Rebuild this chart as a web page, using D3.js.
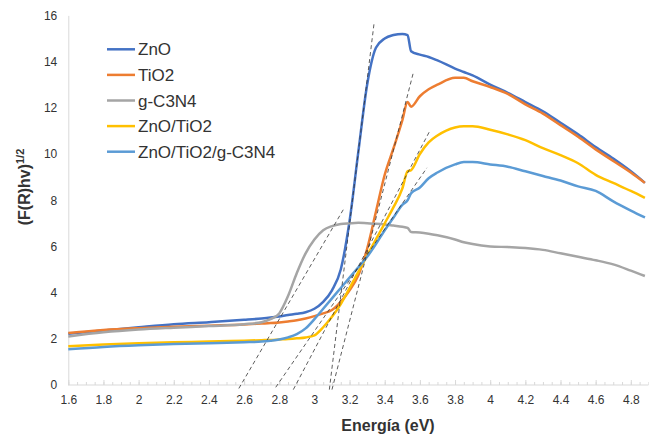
<!DOCTYPE html>
<html>
<head>
<meta charset="utf-8">
<script src="https://cdn.jsdelivr.net/npm/d3@7"></script>
<style>
  html, body { margin: 0; padding: 0; background: #ffffff; }
  svg { display: block; font-family: "Liberation Sans", Arial, sans-serif; }
</style>
</head>
<body>
<svg id="chart" width="649" height="437"></svg>
<script>
// ---------- DATA ----------
const energy = [1.6,1.8,2.0,2.2,2.4,2.6,2.7,2.75,2.8,2.85,2.9,2.95,3.0,3.05,3.1,3.15,3.2,3.25,3.3,3.35,3.4,3.45,3.5,3.53,3.55,3.6,3.65,3.7,3.8,3.85,3.9,4.0,4.1,4.2,4.3,4.4,4.5,4.6,4.7,4.8,4.88];

const seriesNames = ["ZnO", "TiO2", "g-C3N4", "ZnO/TiO2", "ZnO/TiO2/g-C3N4"];

const znO = [2.22,2.36,2.5,2.63,2.72,2.82,2.88,2.92,2.97,3.03,3.08,3.15,3.3,3.6,4.1,5.0,7.1,10.1,13.0,14.6,15.0,15.15,15.2,15.15,14.45,14.3,14.2,14.05,13.7,13.55,13.4,13.0,12.65,12.25,11.85,11.35,10.85,10.3,9.8,9.25,8.75];

const tiO2 = [2.25,2.38,2.46,2.52,2.57,2.62,2.66,2.68,2.71,2.75,2.8,2.88,2.98,3.1,3.25,3.6,4.1,4.75,5.9,7.5,9.1,10.25,11.45,12.25,12.05,12.5,12.8,13.0,13.3,13.3,13.15,12.9,12.6,12.15,11.75,11.25,10.75,10.2,9.7,9.2,8.75];

const gC3N4 = [2.1,2.28,2.4,2.48,2.55,2.63,2.72,2.85,3.1,3.85,4.85,5.7,6.3,6.7,6.88,6.97,7.0,7.02,7.0,6.98,6.95,6.9,6.85,6.8,6.62,6.6,6.55,6.48,6.3,6.18,6.1,6.0,5.97,5.93,5.85,5.7,5.55,5.4,5.22,4.95,4.72];

const znOTiO2 = [1.68,1.75,1.81,1.85,1.88,1.92,1.94,1.95,1.97,1.99,2.02,2.06,2.15,2.5,2.95,3.5,4.2,4.9,5.6,6.3,7.0,7.7,8.5,9.25,9.3,10.0,10.5,10.8,11.15,11.2,11.2,11.05,10.85,10.6,10.25,9.95,9.6,9.1,8.75,8.4,8.1];

const znOTiO2gC3N4 = [1.55,1.65,1.72,1.77,1.81,1.85,1.88,1.92,1.97,2.06,2.2,2.45,2.85,3.3,3.75,4.2,4.65,5.1,5.55,6.1,6.7,7.25,7.8,8.0,8.3,8.55,8.95,9.2,9.55,9.65,9.65,9.55,9.45,9.25,9.05,8.85,8.6,8.4,7.95,7.55,7.25];

// Tangent (Tauc) lines: [x0, y0, x1, y1] in data units
const tangentLines = [
  [2.57, -0.15, 3.165, 7.6],
  [2.78, -0.1, 3.64, 9.4],
  [2.88, -0.2, 3.66, 11.05],
  [3.10, -0.2, 3.562, 13.5],
  [3.085, -0.2, 3.34, 15.7]
];

const xTickValues = [1.6,1.8,2.0,2.2,2.4,2.6,2.8,3.0,3.2,3.4,3.6,3.8,4.0,4.2,4.4,4.6,4.8];
const yTickValues = [0,2,4,6,8,10,12,14,16];

// ---------- STYLE ----------
const colors = ["#4472C4", "#ED7D31", "#A5A5A5", "#FFC000", "#5B9BD5"];
const textColor = "#333333";
const axisColor = "#d9d9d9";

// ---------- CHART ----------
const svg = d3.select("#chart");
const allSeries = [znO, tiO2, gC3N4, znOTiO2, znOTiO2gC3N4];

const x = d3.scaleLinear().domain([1.6, 4.9]).range([68.3, 648.4]);
const y = d3.scaleLinear().domain([0, 16]).range([385, 15.4]);

// y axis (line only + labels)
const yAxis = svg.append("g").attr("transform", `translate(${x(1.6)},0)`)
  .call(d3.axisLeft(y).tickValues(yTickValues).tickSize(0).tickPadding(11).tickFormat(d3.format("d")));
yAxis.select(".domain").attr("stroke", axisColor).attr("stroke-width", 1);
yAxis.selectAll("text").attr("font-size", 12).attr("fill", textColor)
  .attr("font-family", "'Liberation Sans', Arial, sans-serif");

// x axis minor ticks
const minorVals = d3.range(0, 67).map(i => +(1.6 + i * 0.05).toFixed(2)).filter(v => v <= 4.9);
const xMinor = svg.append("g").attr("transform", `translate(0,${y(0)})`)
  .call(d3.axisBottom(x).tickValues(minorVals).tickSize(-3).tickFormat(""));
xMinor.select(".domain").remove();
xMinor.selectAll("line").attr("stroke", axisColor);

// x axis major
const xAxis = svg.append("g").attr("transform", `translate(0,${y(0)})`)
  .call(d3.axisBottom(x).tickValues(xTickValues).tickSize(-5).tickFormat(d => d3.format("")(+d.toFixed(1))));
xAxis.select(".domain").attr("stroke", axisColor).attr("stroke-width", 1)
  .attr("d", `M${x(1.6)},0H${x(4.9)}`);
xAxis.selectAll("line").attr("stroke", axisColor);
xAxis.selectAll("text").attr("y", 19).attr("dy", 0).attr("font-size", 12).attr("fill", textColor)
  .attr("font-family", "'Liberation Sans', Arial, sans-serif");

// series lines
const line = d3.line().x(d => x(d[0])).y(d => y(d[1])).curve(d3.curveMonotoneX);
allSeries.forEach((vals, i) => {
  svg.append("path")
    .datum(energy.map((e, j) => [e, vals[j]]))
    .attr("fill", "none")
    .attr("stroke", colors[i])
    .attr("stroke-width", 2.5)
    .attr("stroke-linejoin", "round")
    .attr("d", line);
});

// tangent lines
svg.append("g").selectAll("line").data(tangentLines).join("line")
  .attr("x1", d => x(d[0])).attr("y1", d => y(d[1]))
  .attr("x2", d => x(d[2])).attr("y2", d => y(d[3]))
  .attr("stroke", "#333333").attr("stroke-width", 0.8)
  .attr("stroke-dasharray", "4,3");

// legend
const legend = svg.append("g");
seriesNames.forEach((name, i) => {
  const cy = 49.3 + i * 25.6;
  legend.append("line").attr("x1", 107).attr("x2", 135).attr("y1", cy).attr("y2", cy)
    .attr("stroke", colors[i]).attr("stroke-width", 2.5);
  legend.append("text").attr("x", 138).attr("y", cy).attr("dy", "0.36em")
    .attr("font-size", 17).attr("fill", textColor).text(name);
});

// axis titles
svg.append("text").attr("x", 388).attr("y", 431).attr("text-anchor", "middle")
  .attr("font-size", 16).attr("font-weight", "bold").attr("fill", textColor)
  .text("Energía (eV)");

const yTitle = svg.append("text")
  .attr("transform", "translate(30,187) rotate(-90)")
  .attr("text-anchor", "middle")
  .attr("font-size", 16).attr("font-weight", "bold").attr("fill", textColor);
yTitle.append("tspan").text("(F(R)hv)");
yTitle.append("tspan").attr("font-size", 11).attr("dy", -6).text("1/2");
</script>
</body>
</html>
